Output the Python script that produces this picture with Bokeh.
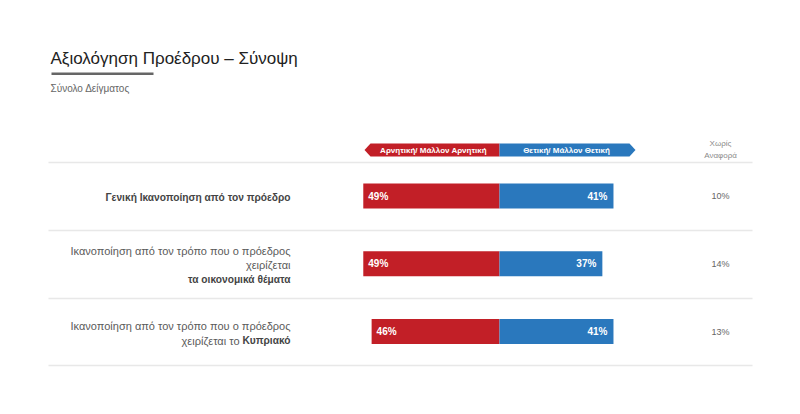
from bokeh.plotting import figure
from bokeh.models import Range1d
from bokeh.core.properties import value
from bokeh.embed import file_html
from bokeh.resources import INLINE

# ---- data ----
categories = [
    "Γενική Ικανοποίηση από τον πρόεδρο",
    "Ικανοποίηση από τον τρόπο που ο πρόεδρος χειρίζεται τα οικονομικά θέματα",
    "Ικανοποίηση από τον τρόπο που ο πρόεδρος χειρίζεται το Κυπριακό",
]
negative = [49, 49, 46]
positive = [41, 37, 41]
no_answer = [10, 14, 13]
neg_label = "Αρνητική/ Μάλλον Αρνητική"
pos_label = "Θετική/ Μάλλον Θετική"
na_label = ["Χωρίς", "Αναφορά"]
title = "Αξιολόγηση Προέδρου – Σύνοψη"
subtitle = "Σύνολο Δείγματος"

RED = "#C21F27"
BLUE = "#2A78BD"
FONT = value("Liberation Sans")

W, H = 784, 398
X0 = 499.0      # picture pixel of 0 %
PPP = 2.78      # pixels per percent
Y0 = 195.5      # picture pixel of first row centre
ROW = 67.75     # pixels per row

def fx(ax):
    return (ax - X0) / PPP

def fy(ay):
    return (ay - Y0) / ROW

p = figure(width=W, height=H, output_backend="svg", toolbar_location=None,
           x_range=Range1d(fx(0), fx(W)), y_range=Range1d(fy(H), fy(0)),
           x_axis_type=None, y_axis_type=None, min_border=0)
p.grid.visible = False
p.outline_line_color = None
p.background_fill_color = "white"
p.border_fill_color = "white"

rows = list(range(len(categories)))

# title block
p.text(x=[fx(50)], y=[fy(58)], text=[title], text_font=FONT, text_font_size="17px",
       text_color="#222222", text_align="left", text_baseline="middle")
p.quad(left=[fx(51)], right=[fx(153)], top=[fy(72)], bottom=[fy(74.5)],
       fill_color="#666666", line_color=None)
p.text(x=[fx(50)], y=[fy(88)], text=[subtitle], text_font=FONT, text_font_size="10px",
       text_color="#666666", text_align="left", text_baseline="middle")

# separators
sep_y = [162, 230, 298, 365]
p.segment(x0=[fx(48)] * 4, x1=[fx(752)] * 4, y0=[fy(v) for v in sep_y], y1=[fy(v) for v in sep_y],
          line_color="#E8E8E8", line_width=1.5)

# header arrows
p.patch(x=[fx(364), fx(370), fx(499), fx(499), fx(370)],
        y=[fy(149.5), fy(143), fy(143), fy(156), fy(156)], fill_color=RED, line_color=None)
p.patch(x=[fx(499), fx(629), fx(635), fx(629), fx(499)],
        y=[fy(143), fy(143), fy(149.5), fy(156), fy(156)], fill_color=BLUE, line_color=None)
p.text(x=[fx(433)], y=[fy(150)], text=[neg_label], text_font=FONT, text_font_size="8px",
       text_font_style="bold", text_color="white", text_align="center", text_baseline="middle")
p.text(x=[fx(566)], y=[fy(150)], text=[pos_label], text_font=FONT, text_font_size="8px",
       text_font_style="bold", text_color="white", text_align="center", text_baseline="middle")
p.text(x=[fx(720), fx(720)], y=[fy(143), fy(155)], text=na_label, text_font=FONT,
       text_font_size="8px", text_color="#8A8A8A", text_align="center", text_baseline="middle")

# bars
bh = 25 / ROW
p.hbar(y=rows, left=[-v for v in negative], right=[0] * len(rows), height=bh,
       fill_color=RED, line_color=None)
p.hbar(y=rows, left=[0] * len(rows), right=positive, height=bh,
       fill_color=BLUE, line_color=None)
p.text(x=[-v + 5 / PPP for v in negative], y=rows, text=[f"{v}%" for v in negative],
       text_font=FONT, text_font_size="10px", text_font_style="bold", text_color="white",
       text_align="left", text_baseline="middle")
p.text(x=[v - 6 / PPP for v in positive], y=rows, text=[f"{v}%" for v in positive],
       text_font=FONT, text_font_size="10px", text_font_style="bold", text_color="white",
       text_align="right", text_baseline="middle")
p.text(x=[fx(720)] * len(rows), y=rows, text=[f"{v}%" for v in no_answer],
       text_font=FONT, text_font_size="9px", text_color="#666666",
       text_align="center", text_baseline="middle")

# category labels (mixed weights)
LX = fx(290)
normal_col = "#5A5A5A"
bold_col = "#444444"
BSIZE = "10.2px"
p.text(x=[LX], y=[fy(197)], text=[categories[0]], text_font=FONT, text_font_size=BSIZE,
       text_font_style="bold", text_color=bold_col, text_align="right", text_baseline="middle")
p.text(x=[LX, LX], y=[fy(250), fy(264.5)],
       text=["Ικανοποίηση από τον τρόπο που ο πρόεδρος", "χειρίζεται"],
       text_font=FONT, text_font_size="11px", text_color=normal_col,
       text_align="right", text_baseline="middle")
p.text(x=[LX], y=[fy(279)], text=["τα οικονομικά θέματα"], text_font=FONT, text_font_size=BSIZE,
       text_font_style="bold", text_color=bold_col, text_align="right", text_baseline="middle")
p.text(x=[LX], y=[fy(325)], text=["Ικανοποίηση από τον τρόπο που ο πρόεδρος"],
       text_font=FONT, text_font_size="11px", text_color=normal_col,
       text_align="right", text_baseline="middle")
p.text(x=[fx(239)], y=[fy(340)], text=["χειρίζεται το"],
       text_font=FONT, text_font_size="11px", text_color=normal_col,
       text_align="right", text_baseline="middle")
p.text(x=[LX], y=[fy(340)], text=["Κυπριακό"], text_font=FONT, text_font_size=BSIZE,
       text_font_style="bold", text_color=bold_col, text_align="right", text_baseline="middle")

open("out.html", "w").write(file_html(p, INLINE))
